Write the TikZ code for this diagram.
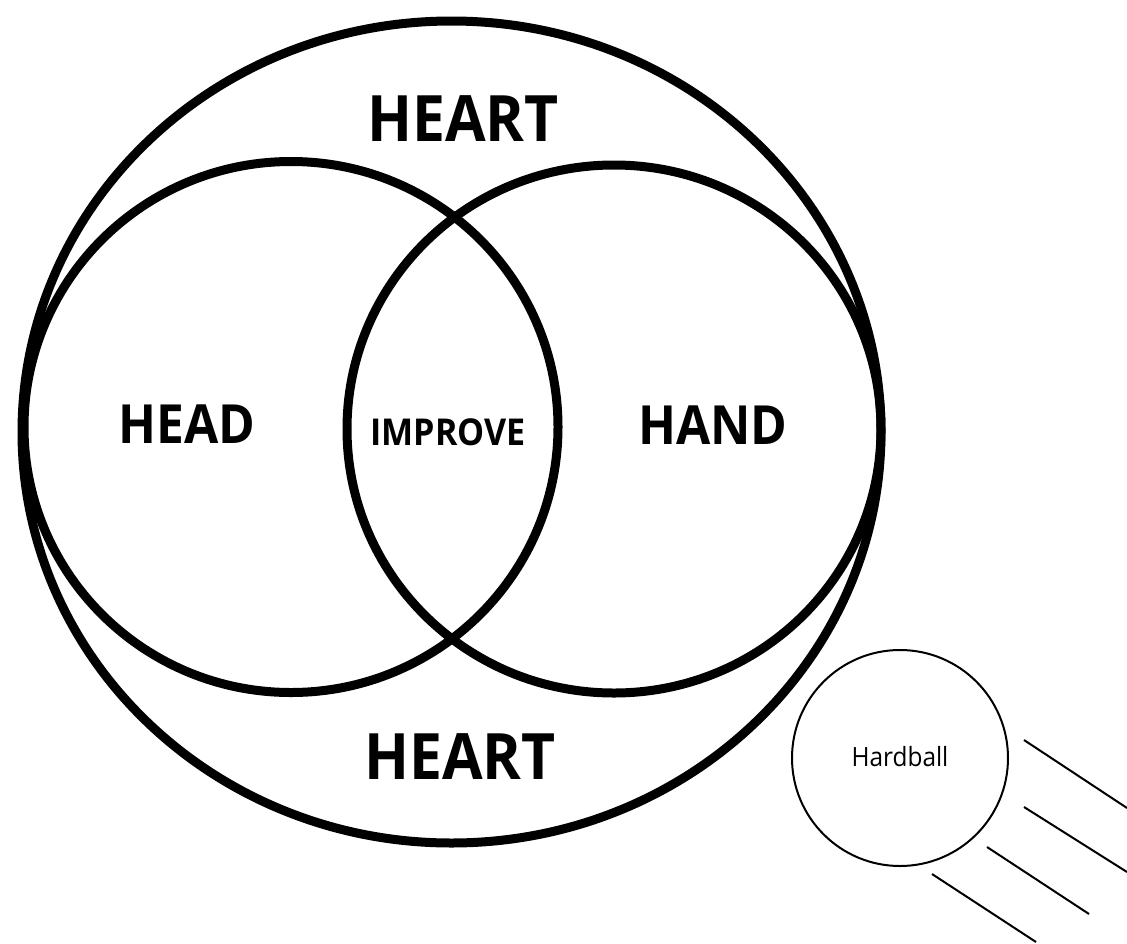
\documentclass[tikz,border=0pt]{standalone}
\usepackage{fontspec}
\setmainfont{Open Sans}[FakeStretch=0.92]
\usetikzlibrary{shapes.geometric}
\begin{document}
\begin{tikzpicture}[
  x=1pt, y=-1pt,
  ring/.style={ellipse, draw=black, line width=9pt, inner sep=0pt},
  ball/.style={circle, draw=black, line width=2pt, inner sep=0pt, minimum size=216pt},
  streak/.style={draw=black, line width=2pt},
  bigword/.style={font=\bfseries\fontsize{64}{64}\selectfont},
  setword/.style={font=\bfseries\fontsize{54}{54}\selectfont},
  midword/.style={font=\bfseries\fontsize{37}{37}\selectfont},
  ballword/.style={font=\fontsize{26.5}{26.5}\selectfont}
]
  \useasboundingbox (0,0) rectangle (1127,943);

  % Conjuntos del diagrama
  \node[ring, minimum width=859pt, minimum height=822pt] (heart) at (451.5, 432) {};
  \node[ring, minimum width=534pt, minimum height=531pt] (head) at (291, 427) {};
  \node[ring, minimum width=534pt, minimum height=528pt] (hand) at (614, 429) {};

  % Etiquetas
  \node[bigword] (hearttop) at (463, 118.5) {HEART};
  \node[bigword] (heartbot) at (460, 757) {HEART};
  \node[setword] (headlbl) at (187, 424) {HEAD};
  \node[setword] (handlbl) at (713, 425) {HAND};
  \node[midword] (improve) at (448, 432) {IMPROVE};

  % Pelota con estela
  \node[ball] (hardball) at (900, 758) {};
  \node[ballword] (balllbl) at (900, 757) {Hardball};
  \draw[streak] (1024, 740) -- (1127, 808);
  \draw[streak] (1024, 807) -- (1127, 872);
  \draw[streak] (987, 847) -- (1089, 914);
  \draw[streak] (932, 874) -- (1036, 942);

\end{tikzpicture}
\end{document}
